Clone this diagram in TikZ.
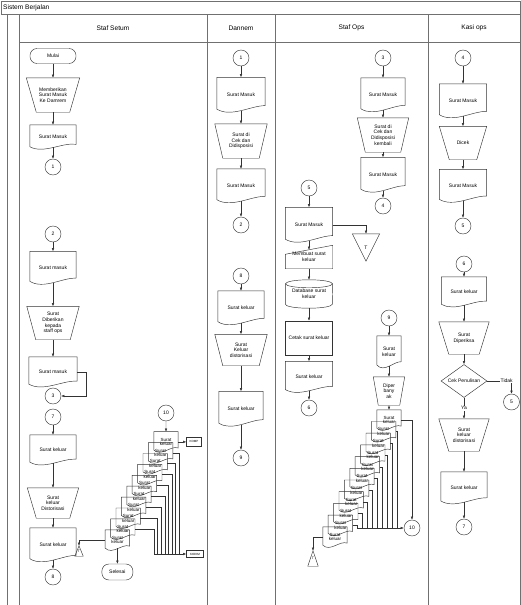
\documentclass[tikz,border=0pt]{standalone}
\usepackage{fontspec}
\setmainfont{Liberation Sans}
\usetikzlibrary{arrows.meta,shapes.geometric,calc}
\definecolor{flgaris}{HTML}{333333}
\definecolor{fllajur}{HTML}{707070}
\newcommand{\kecil}{\fontsize{5}{5.6}\selectfont}
\newcommand{\fontstk}{\fontsize{4.5}{4.6}\selectfont}
\tikzset{
  garis/.style={draw=flgaris, line width=0.45pt},
  panah/.style={garis, -{Latex[length=3.2pt,width=2.6pt]}},
  lajur/.style={draw=fllajur, line width=0.8pt},
  judul/.style={font=\fontsize{6.6}{7.5}\selectfont, inner sep=0pt},
  kotak/.style={garis, align=center, font=\kecil, inner sep=0.6pt},
  mulai/.style={kotak, rounded corners=7pt, minimum width=46pt, minimum height=15pt},
  konektor/.style={kotak, circle, minimum size=16pt},
  manual/.style={kotak, draw=none, minimum width=52pt, minimum height=33pt},
  proses/.style={kotak, rectangle, minimum width=47pt, minimum height=34pt},
  dok/.style={align=center, font=\kecil, inner sep=0.6pt, minimum width=47pt, minimum height=34pt},
  dokkecil/.style={dok, font=\fontstk, minimum width=24pt, minimum height=20pt, inner sep=0.2pt},
  keputusan/.style={kotak, diamond, aspect=1.4, minimum width=46pt, minimum height=33pt, inner sep=0pt},
  tujuan/.style={kotak, font=\fontsize{3}{3.5}\selectfont, inner sep=0.8pt},
  ket/.style={font=\kecil, fill=white, inner sep=0.6pt},
}
\newcommand{\dokrand}[1]{%
  \draw[garis] (#1.north west) -- (#1.north east)
    -- ($(#1.north east)!0.8!(#1.south east)$)
    .. controls ($(#1.south west)!0.7!(#1.south east)+(0pt,7pt)$)
    and ($(#1.south west)!0.3!(#1.south east)+(0pt,-5pt)$)
    .. ($(#1.north west)!0.9!(#1.south west)$) -- cycle;}
\newcommand{\manualrand}[2]{%
  \draw[garis] (#1.north west) -- (#1.north east) -- ([xshift=-#2pt]#1.south east)
    -- ([xshift=#2pt]#1.south west) -- cycle;}

\begin{document}
\begin{tikzpicture}[x=1pt, y=-1pt]
  \useasboundingbox (0,0) rectangle (521,605);
  % lajur
  \draw[lajur] (1,1) rectangle (520,14);
  \draw[lajur] (7,14) -- (7,605);
  \draw[lajur] (19,14) -- (19,605) (19,42) -- (520,42);
  \foreach \x in {207,275,428,520} \draw[lajur] (\x,14) -- (\x,605);
  \node[judul, anchor=west] (sistem) at (3,7.5) {Sistem Berjalan};
  \node[judul] (hsetum) at (113,28) {Staf Setum};
  \node[judul] (hdannem) at (241,28) {Dannem};
  \node[judul] (hops) at (351.5,28) {Staf Ops};
  \node[judul] (hkasi) at (474,28) {Kasi ops};

  % Staf Setum
  \node[mulai] (mulai) at (53,56) {Mulai};
  \node[manual, minimum width=53pt, minimum height=34pt] (beri) at (53,95) {Memberikan\\Surat Masuk\\Ke Damrem};
  \node[dok, minimum width=46pt, minimum height=24pt] (masukA) at (53,137) {Surat Masuk};
  \node[konektor] (kA1) at (53,167) {1};
  \node[konektor] (kA2) at (53,234) {2};
  \node[dok, minimum width=46pt, minimum height=33pt] (masukA2) at (53,268) {Surat masuk};
  \node[manual] (berikan) at (53,323) {Surat\\Diberikan\\kepada\\staff ops};
  \node[dok, minimum width=48pt, minimum height=30pt] (masukA3) at (53,372) {Surat masuk};
  \node[konektor] (kA3) at (53,396) {3};
  \node[konektor] (kA7) at (53,417) {7};
  \node[dok, minimum width=46pt, minimum height=30pt] (keluarA) at (53,450) {Surat keluar};
  \node[manual, minimum width=51pt, minimum height=30pt] (distA) at (53,503) {Surat\\keluar\\Distorisasi};
  \node[dok, minimum width=46pt, minimum height=34pt] (keluarA2) at (53,545) {Surat keluar};
  \node[konektor] (kA8) at (53,577) {8};
  \node[konektor] (kA10) at (166,413) {10};
  \foreach \k in {9,8,...,0}{
    \node[dokkecil] (a\k) at ({117.4+5.4*\k},{540-10.9*\k}) {Surat\\keluar};
    \dokrand{a\k}
  }
  \node[tujuan, minimum width=15pt, minimum height=9pt] (komp) at (194,441.9) {KOMP};
  \node[tujuan, minimum width=17pt, minimum height=7pt] (kodim) at (195,554) {KODIM};
  \node[mulai, minimum width=31pt, minimum height=16pt] (selesai) at (117.4,572) {Selesai};
  \node[kotak, draw=none, font=\fontsize{3.5}{4}\selectfont, inner sep=0pt,
    minimum width=8pt, minimum height=10pt] (tka) at (79,551) {T};
  \draw[garis] (tka.south west) -- (tka.north) -- (tka.south east) -- cycle;

  % Dannem
  \node[konektor] (kB1) at (241,58) {1};
  \node[dok, minimum width=48pt, minimum height=35pt] (masukB) at (241,95) {Surat Masuk};
  \node[manual, minimum height=34pt] (cekB) at (241,141) {Surat di\\Cek dan\\Didisposisi};
  \node[dok, minimum width=48pt, minimum height=34pt] (masukB2) at (241,186) {Surat Masuk};
  \node[konektor] (kB2) at (241,225) {2};
  \node[konektor] (kB8) at (241,276) {8};
  \node[dok, minimum width=46pt, minimum height=34pt] (keluarB) at (241,308) {Surat keluar};
  \node[manual, minimum height=31pt] (distB) at (241,350) {Surat\\Keluar\\distorisasi};
  \node[dok, minimum width=44pt, minimum height=35pt] (keluarB2) at (241,409) {Surat keluar};
  \node[konektor] (kB9) at (241,458) {9};

  % Staf Ops
  \node[konektor] (kC3) at (383,58) {3};
  \node[dok, minimum width=44pt, minimum height=34pt] (masukC) at (383,95) {Surat Masuk};
  \node[manual, minimum width=51pt, minimum height=34pt] (cekC) at (383,135) {Surat di\\Cek dan\\Didisposisi\\kembali};
  \node[dok, minimum width=44pt, minimum height=35pt] (masukC2) at (383,175) {Surat Masuk};
  \node[konektor] (kC4) at (383,206) {4};
  \node[konektor] (kC5) at (309,188) {5};
  \node[dok, minimum width=47pt, minimum height=35pt] (masukD) at (309,225) {Surat Masuk};
  \node[kotak, draw=none, minimum width=47pt, minimum height=23pt] (buat) at (309,257) {Membuat surat\\keluar};
  \draw[garis] (buat.south west) -- ([yshift=-9pt]buat.north west) -- (buat.north east) -- (buat.south east) -- cycle;
  \node[kotak, draw=none, minimum width=47pt, minimum height=28pt] (db) at (309,294) {Database surat\\keluar};
  \draw[garis] ([yshift=-4pt]db.north west) -- ([yshift=4pt]db.south west)
    arc[start angle=180, end angle=360, x radius=23.5pt, y radius=4pt] -- ([yshift=-4pt]db.north east);
  \draw[garis] ([yshift=-4pt]db.north) ellipse [x radius=23.5pt, y radius=4pt];
  \node[proses] (cetak) at (309,338) {Cetak surat keluar};
  \node[dok, minimum width=47pt, minimum height=31pt] (keluarD) at (309,377) {Surat keluar};
  \node[konektor] (kC6) at (309,408) {6};
  \node[kotak, draw=none, minimum width=27pt, minimum height=27pt] (tbesar) at (366,247.5) {T};
  \draw[garis] (tbesar.north west) -- (tbesar.north east) -- (tbesar.south) -- cycle;
  \node[konektor] (kC9) at (389,318) {9};
  \node[dok, minimum width=24pt, minimum height=32pt] (keluarE) at (389,352) {Surat\\keluar};
  \node[manual, minimum width=31pt, minimum height=28pt] (banyak) at (389,391) {Diper\\bany\\ak};
  \foreach \k in {10,9,...,0}{
    \node[dokkecil] (b\k) at ({335+5.4*\k},{537-11.7*\k}) {Surat\\keluar};
    \dokrand{b\k}
  }
  \node[konektor] (kC10) at (412,528) {10};
  \node[kotak, draw=none, font=\fontsize{3.5}{4}\selectfont, inner sep=0pt,
    minimum width=10pt, minimum height=15pt] (tkb) at (313,558.5) {T};
  \draw[garis] (tkb.south west) -- (tkb.north) -- (tkb.south east) -- cycle;

  % Kasi ops
  \node[konektor] (kD4) at (463,58) {4};
  \node[dok, minimum width=47pt, minimum height=34pt] (masukF) at (463,101) {Surat Masuk};
  \node[manual, minimum width=47pt, minimum height=33pt] (dicek) at (463,143) {Dicek};
  \node[dok, minimum width=47pt, minimum height=33pt] (masukF2) at (463,186) {Surat Masuk};
  \node[konektor] (kD5) at (463,226) {5};
  \node[konektor] (kD6) at (464,264) {6};
  \node[dok, minimum width=45pt, minimum height=30pt] (keluarF) at (464,292) {Surat keluar};
  \node[manual, minimum width=50pt, minimum height=32pt] (periksa) at (464,338) {Surat\\Diperiksa};
  \node[keputusan] (cekpen) at (464,381) {Cek Penulisan};
  \node[konektor] (kD5b) at (511.5,402) {5};
  \node[manual, minimum width=50pt, minimum height=32pt] (distF) at (464,435) {Surat\\keluar\\distorisasi};
  \node[dok, minimum width=46pt, minimum height=32pt] (keluarF2) at (464,488) {Surat keluar};
  \node[konektor] (kD7) at (464,527) {7};

  \foreach \d in {masukA,masukA2,masukA3,keluarA,keluarA2,masukB,masukB2,keluarB,keluarB2,
    masukC,masukC2,masukD,keluarD,keluarE,masukF,masukF2,keluarF,keluarF2}{
    \dokrand{\d}
  }
  \foreach \m/\i in {beri/10,berikan/9,distA/9,cekB/8,distB/8,cekC/8,banyak/5,
    dicek/10,periksa/10,distF/10}{
    \manualrand{\m}{\i}
  }

  % panah
  \draw[panah] (mulai) -- (beri);
  \draw[panah] (beri) -- (masukA);
  \draw[panah] ([yshift=2pt]masukA.south) -- (kA1);
  \draw[panah] (kA2) -- (masukA2);
  \draw[panah] ([yshift=2pt]masukA2.south) -- (berikan);
  \draw[panah] (berikan) -- (masukA3);
  \draw[panah] (masukA3.east) -- ++(9,0) |- (kA3.east);
  \draw[panah] (kA7) -- (keluarA);
  \draw[panah] ([yshift=2pt]keluarA.south) -- (distA);
  \draw[panah] (distA) -- (keluarA2);
  \draw[panah] ([yshift=2pt]keluarA2.south) -- (kA8);
  \draw[panah] (kA10) -- (a9);
  \draw[panah] (a9.east) -- (a9.east -| komp.west);
  \coordinate (busA) at (154,554);
  \foreach \k in {1,...,8}{
    \draw[garis] (a\k.east) -| ([xshift={3.6*(\k-1)}]busA);
  }
  \draw[panah] (busA) -- (kodim);
  \draw[panah] (a0.west) -| (tka.north);
  \draw[panah] ([yshift=2pt]a0.south) -- (selesai);

  \draw[panah] (kB1) -- (masukB);
  \draw[panah] ([yshift=2pt]masukB.south) -- (cekB);
  \draw[panah] (cekB) -- (masukB2);
  \draw[panah] ([yshift=2pt]masukB2.south) -- (kB2);
  \draw[panah] (kB8) -- (keluarB);
  \draw[panah] ([yshift=2pt]keluarB.south) -- (distB);
  \draw[panah] (distB) -- (keluarB2);
  \draw[panah] ([yshift=2pt]keluarB2.south) -- (kB9);

  \draw[panah] (kC3) -- (masukC);
  \draw[panah] ([yshift=2pt]masukC.south) -- (cekC);
  \draw[panah] (cekC) -- (masukC2);
  \draw[panah] ([yshift=2pt]masukC2.south) -- (kC4);
  \draw[panah] (kC5) -- (masukD);
  \draw[panah] ([yshift=2pt]masukD.south) -- ($(buat.north)+(0pt,-4.5pt)$);
  \draw[panah] (masukD.east) -| (tbesar.north);
  \draw[panah] (buat) -- (db);
  \draw[panah] (db) -- (cetak);
  \draw[panah] (cetak) -- (keluarD);
  \draw[panah] ([yshift=2pt]keluarD.south) -- (kC6);
  \draw[panah] (kC9) -- (keluarE);
  \draw[panah] ([yshift=2pt]keluarE.south) -- (banyak);
  \draw[panah] (banyak) -- (b10);
  \coordinate (busB) at (357,528);
  \foreach \k in {1,...,9}{
    \draw[garis] (b\k.east) -| ([xshift={5*(\k-1)}]busB);
  }
  \draw[panah] (busB) -- (kC10);
  \draw[panah] (b10.east) -| (kC10);
  \draw[panah] (b0.west) -| (tkb.north);

  \draw[panah] (kD4) -- (masukF);
  \draw[panah] ([yshift=2pt]masukF.south) -- (dicek);
  \draw[panah] (dicek) -- (masukF2);
  \draw[panah] ([yshift=2pt]masukF2.south) -- (kD5);
  \draw[panah] (kD6) -- (keluarF);
  \draw[panah] ([yshift=2pt]keluarF.south) -- (periksa);
  \draw[panah] (periksa) -- (cekpen);
  \draw[panah] (cekpen.east) -| node[ket, pos=0.4] {Tidak} (kD5b);
  \draw[panah] (cekpen) -- node[ket] {Ya} (distF);
  \draw[panah] (distF) -- (keluarF2);
  \draw[panah] ([yshift=2pt]keluarF2.south) -- (kD7);
\end{tikzpicture}
\end{document}
